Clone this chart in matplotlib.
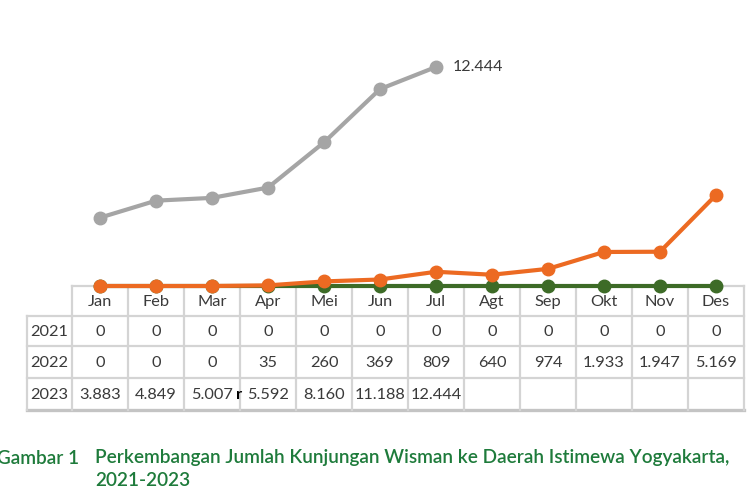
import matplotlib.pyplot as plt

bulan = ["Jan", "Feb", "Mar", "Apr", "Mei", "Jun", "Jul", "Agt", "Sep", "Okt", "Nov", "Des"]
tahun = ["2021", "2022", "2023"]
v2021 = [0, 0, 0, 0, 0, 0, 0, 0, 0, 0, 0, 0]
v2022 = [0, 0, 0, 35, 260, 369, 809, 640, 974, 1933, 1947, 5169]
v2023 = [3883, 4849, 5007, 5592, 8160, 11188, 12444]

warna = {"2021": "#3d6b27", "2022": "#ec6a22", "2023": "#a5a5a5"}
abu_teks = "#3a3a3a"
garis_tabel = "#d4d4d4"


def fmt(v):
    # titik sebagai pemisah ribuan
    return f"{v:,}".replace(",", ".")


fig = plt.figure(figsize=(7.5, 5), dpi=100)
W, H = 750, 500

# axes untuk garis
ax = fig.add_axes([72 / W, 1 - 286 / H, 672 / W, 256 / H])
ax.set_xlim(-0.5, 11.5)
ax.set_ylim(0, 14545)
ax.axis("off")

x = list(range(12))
for th, vals in zip(tahun, [v2021, v2022, v2023]):
    ax.plot(x[:len(vals)], vals, color=warna[th], lw=3, marker="o", ms=9,
            clip_on=False, solid_capstyle="round")
ax.annotate(fmt(v2023[-1]), (len(v2023) - 1, v2023[-1]), xytext=(12, 0),
            textcoords="offset points", va="center", ha="left",
            fontsize=11.5, color=abu_teks, family="Lato")

# axes untuk tabel (koordinat piksel)
tb = fig.add_axes([0, 0, 1, 1], zorder=-1)
tb.set_xlim(0, W)
tb.set_ylim(H, 0)
tb.axis("off")

kol = [27, 72] + [72 + 56 * (i + 1) for i in range(12)]
bar = [286, 316, 346, 378, 410]
lw = 1.6
# garis horizontal
tb.plot([72, kol[-1]], [bar[0]] * 2, color=garis_tabel, lw=lw)
for yb in bar[1:-1]:
    tb.plot([kol[0], kol[-1]], [yb] * 2, color=garis_tabel, lw=lw)
tb.plot([kol[0], kol[-1]], [bar[-1]] * 2, color="#c4c4c4", lw=2.4)
# garis vertikal
tb.plot([kol[0]] * 2, [bar[1], bar[-1]], color=garis_tabel, lw=lw)
for xb in kol[1:]:
    tb.plot([xb] * 2, [bar[0], bar[-1]], color=garis_tabel, lw=lw)

fs = 11.8
for i, b in enumerate(bulan):
    tb.text((kol[i + 1] + kol[i + 2]) / 2, (bar[0] + bar[1]) / 2 + 1, b,
            ha="center", va="center", fontsize=fs, color=abu_teks, family="Lato")
for r, (th, vals) in enumerate(zip(tahun, [v2021, v2022, v2023])):
    yc = (bar[r + 1] + bar[r + 2]) / 2 + 1
    tb.text((kol[0] + kol[1]) / 2, yc, th, ha="center", va="center",
            fontsize=fs, color=abu_teks, family="Lato")
    for i, v in enumerate(vals):
        tb.text((kol[i + 1] + kol[i + 2]) / 2, yc, fmt(v), ha="center",
                va="center", fontsize=fs, color=abu_teks, family="Lato")
tb.text(kol[4] - 1, (bar[3] + bar[4]) / 2 + 1, "r", ha="center", va="center",
        fontsize=fs, color="black", family="Lato", fontweight="bold")

# keterangan gambar
hijau = "#1e7b3b"
fs_cap = 13.7
fig.text(-3 / W, 1 - 458 / H, "Gambar 1", fontsize=fs_cap, color=hijau,
         family="Lato", fontweight="semibold", va="center")
fig.text(95 / W, 1 - 458 / H,
         "Perkembangan Jumlah Kunjungan Wisman ke Daerah Istimewa Yogyakarta,",
         fontsize=fs_cap, color=hijau, family="Lato", fontweight="semibold", va="center")
fig.text(95 / W, 1 - 481 / H, "2021-2023", fontsize=fs_cap, color=hijau,
         family="Lato", fontweight="semibold", va="center")

fig.savefig("out.png", dpi=100)
